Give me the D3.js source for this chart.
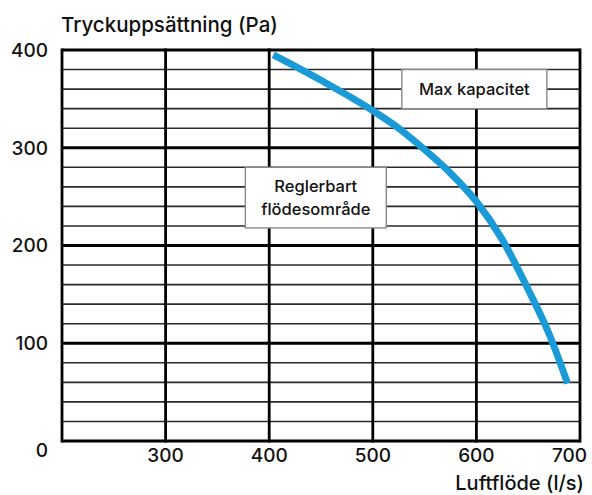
<!DOCTYPE html>
<html>
<head>
<meta charset="utf-8">
<script src="https://cdn.jsdelivr.net/npm/d3@7"></script>
<style>
  html, body { margin: 0; padding: 0; background: #fff; }
  svg text { font-family: "Inter", "Open Sans", sans-serif; font-weight: 500; fill: #111; }
</style>
</head>
<body>
<svg id="chart" width="592" height="495"></svg>
<script>
// Fan curve: air flow (l/s) against available pressure (Pa)
const flow     = [404, 450, 500, 525, 550, 575, 600, 625, 650, 670, 688];
const pressure = [395, 369, 338, 320, 298, 274, 245, 206, 155, 110, 59];

const xTicks = [300, 400, 500, 600, 700];
const yTicks = [0, 100, 200, 300, 400];
const yMinor = d3.range(20, 400, 20).filter(v => v % 100 !== 0);

const yTitle = "Tryckuppsättning (Pa)";
const xTitle = "Luftflöde (l/s)";
const maxLabel = "Max kapacitet";
const rangeLabel = ["Reglerbart", "flödesområde"];

const svg = d3.select("#chart");
const x = d3.scaleLinear().domain([200, 700]).range([62, 580]);
const y = d3.scaleLinear().domain([0, 400]).range([441, 50]);

const grid = svg.append("g");

// minor horizontal lines every 20 Pa
grid.selectAll("line.minor").data(yMinor).join("line")
  .attr("x1", x(200)).attr("x2", x(700))
  .attr("y1", d => y(d)).attr("y2", d => y(d))
  .attr("stroke", "#2a2a2a").attr("stroke-width", 1.6);

// major horizontal lines every 100 Pa
grid.selectAll("line.major").data(yTicks).join("line")
  .attr("x1", x(200)).attr("x2", x(700))
  .attr("y1", d => y(d)).attr("y2", d => y(d))
  .attr("stroke", "#000").attr("stroke-width", 2.8);

// vertical lines every 100 l/s
grid.selectAll("line.vert").data([200, ...xTicks]).join("line")
  .attr("x1", d => x(d)).attr("x2", d => x(d))
  .attr("y1", y(400) - 1.4).attr("y2", y(0) + 1.4)
  .attr("stroke", "#000").attr("stroke-width", 2.8);

// y tick labels
svg.append("g").selectAll("text").data(yTicks).join("text")
  .attr("x", 48)
  .attr("y", d => y(d) + (d === 0 ? 9 : 0))
  .attr("dy", "0.36em")
  .attr("text-anchor", "end")
  .attr("font-size", 19)
  .text(d => d);

// x tick labels, last one kept inside the frame
svg.append("g").selectAll("text").data(xTicks).join("text")
  .attr("x", d => d === 700 ? x(d) + 7 : x(d))
  .attr("y", 462)
  .attr("text-anchor", d => d === 700 ? "end" : "middle")
  .attr("font-size", 19)
  .text(d => d);

svg.append("text").attr("x", 61).attr("y", 32)
  .attr("font-size", 20.5).text(yTitle);
svg.append("text").attr("x", 584).attr("y", 490)
  .attr("text-anchor", "end").attr("font-size", 20).text(xTitle);

// annotation boxes
function box(x0, y0, x1, y1) {
  svg.append("rect")
    .attr("x", x(x0)).attr("y", y(y0))
    .attr("width", x(x1) - x(x0)).attr("height", y(y1) - y(y0))
    .attr("fill", "#fff").attr("stroke", "#8a8a8a").attr("stroke-width", 1.4);
}

box(528, 380, 668, 340);
svg.append("text")
  .attr("x", (x(528) + x(668)) / 2).attr("y", y(360))
  .attr("dy", "0.36em").attr("text-anchor", "middle")
  .attr("font-size", 16.5).text(maxLabel);

box(377, 280, 513, 218);
svg.append("g").selectAll("text").data(rangeLabel).join("text")
  .attr("x", (x(377) + x(513)) / 2)
  .attr("y", (d, i) => y(261) + i * 23)
  .attr("dy", "0.36em").attr("text-anchor", "middle")
  .attr("font-size", 16.5).text(d => d);

// fan curve
const line = d3.line()
  .x((d, i) => x(flow[i]))
  .y(d => y(d))
  .curve(d3.curveMonotoneX);

svg.append("path").datum(pressure)
  .attr("d", line)
  .attr("fill", "none")
  .attr("stroke", "#1b9ad8")
  .attr("stroke-width", 7);
</script>
</body>
</html>
